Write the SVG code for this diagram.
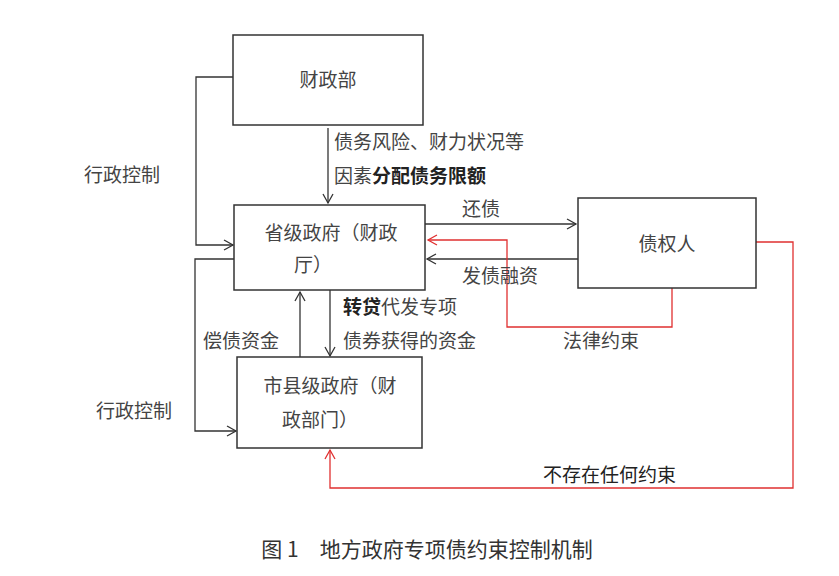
<svg xmlns="http://www.w3.org/2000/svg" width="839" height="576" viewBox="0 0 839 576">
<style>
text{font-family:"Noto Sans CJK SC","Liberation Serif",serif;font-size:19px;fill:#444}
.b{font-weight:bold;fill:#222}
.box{fill:#fff;stroke:#333;stroke-width:1.5}
.k{fill:none;stroke:#333;stroke-width:1.3}
.r{fill:none;stroke:#e03030;stroke-width:1.3}
</style>
<defs>
<marker id="a" markerWidth="12" markerHeight="12" refX="10" refY="6" orient="auto" markerUnits="userSpaceOnUse"><path d="M1,1 L10,6 L1,11" fill="none" stroke="#333" stroke-width="1.3"/></marker>
<marker id="ar" markerWidth="12" markerHeight="12" refX="10" refY="6" orient="auto" markerUnits="userSpaceOnUse"><path d="M1,1 L10,6 L1,11" fill="none" stroke="#e03030" stroke-width="1.3"/></marker>
</defs>
<rect width="839" height="576" fill="#fff"/>
<g id="connectors">
<path class="k" d="M233,77 H196 V245 H233" marker-end="url(#a)"/>
<path class="k" d="M234,259 H195 V431 H236" marker-end="url(#a)"/>
<path class="k" d="M328,128 V203" marker-end="url(#a)"/>
<path class="k" d="M425,224 H576" marker-end="url(#a)"/>
<path class="k" d="M578,259 H427" marker-end="url(#a)"/>
<path class="k" d="M300,357 V292" marker-end="url(#a)"/>
<path class="k" d="M330,290 V356" marker-end="url(#a)"/>
<path class="r" d="M672,288 V327 H507 V240 H428" marker-end="url(#ar)"/>
<path class="r" d="M756,242 H793 V488 H330 V450" marker-end="url(#ar)"/>
<text x="84" y="182">行政控制</text>
<text x="96" y="418">行政控制</text>
<text x="334" y="149">债务风险、财力状况等</text>
<text x="334" y="183">因素<tspan class="b">分配债务限额</tspan></text>
<text x="462" y="216">还债</text>
<text x="462" y="283">发债融资</text>
<text x="343" y="314"><tspan class="b">转贷</tspan>代发专项</text>
<text x="343" y="348">债券获得的资金</text>
<text x="203" y="348">偿债资金</text>
<text x="563" y="348">法律约束</text>
<text x="543" y="482" style="fill:#222">不存在任何约束</text>
</g>
<g id="n1"><rect class="box" x="233" y="35" width="190" height="90"/><text x="328" y="87" text-anchor="middle">财政部</text></g>
<g id="n2"><rect class="box" x="234" y="205" width="191" height="85"/><text x="331" y="240" text-anchor="middle">省级政府（财政</text><text x="313" y="272" text-anchor="middle">厅）</text></g>
<g id="n3"><rect class="box" x="237" y="357" width="185" height="91"/><text x="330" y="393" text-anchor="middle">市县级政府（财</text><text x="320" y="427" text-anchor="middle">政部门）</text></g>
<g id="n4"><rect class="box" x="578" y="198" width="178" height="90"/><text x="667" y="251" text-anchor="middle">债权人</text></g>
<text x="427" y="557" text-anchor="middle" style="font-size:21px;fill:#333">图 1　地方政府专项债约束控制机制</text>
</svg>
